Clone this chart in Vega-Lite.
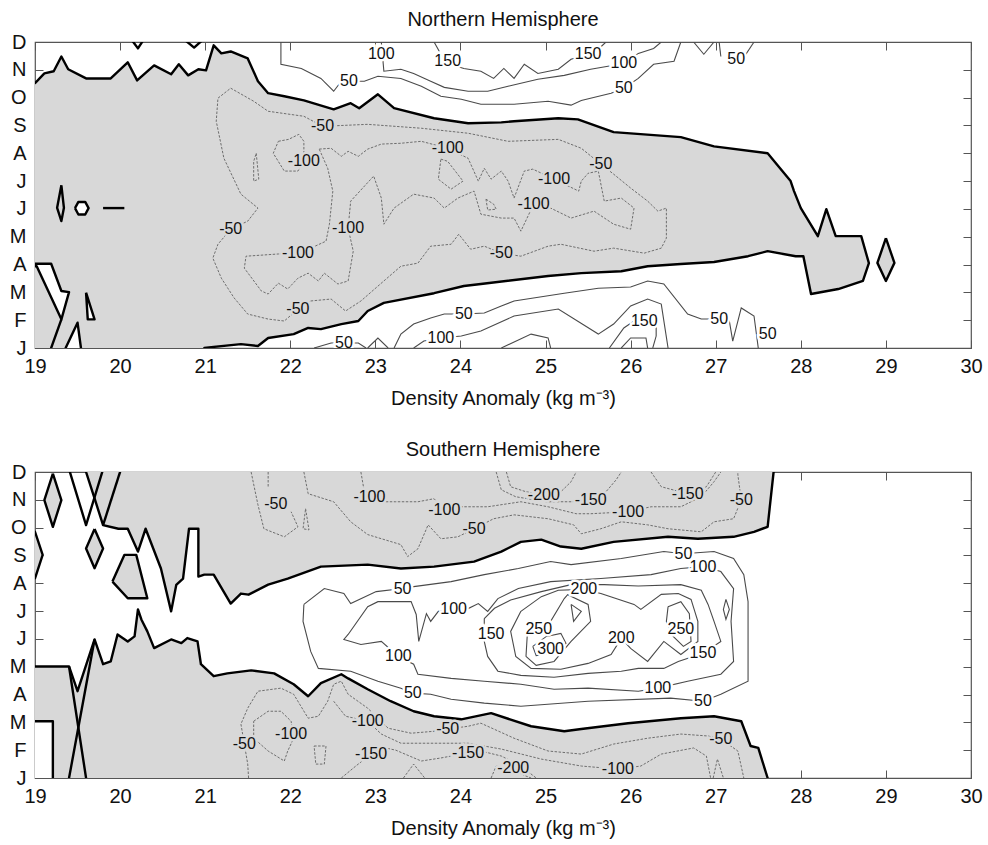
{
"$schema":"https://vega.github.io/schema/vega-lite/v6.json",
"background":"white",
"padding":{"left":8,"top":9,"right":5,"bottom":0},
"spacing":29,
"config":{
 "font":"Liberation Sans",
 "view":{"stroke":"#555","strokeWidth":1.2},
 "axis":{"domain":false,"grid":false,"ticks":true,"tickSize":-8,"tickColor":"#555","tickWidth":1,"labelFont":"Liberation Sans","labelFontSize":20,"labelColor":"#111","titleFont":"Liberation Sans","titleFontSize":20,"titleFontWeight":"normal","titleColor":"#111","labelFlush":false},
 "title":{"font":"Liberation Sans","fontSize":20,"fontWeight":"normal","color":"#111","offset":2,"anchor":"middle"}
},
"datasets":{
"polyN":[
{"g":"n1","s":"g","x":18.9,"y":10.52},{"g":"n1","s":"g","x":19.0,"y":10.52},{"g":"n1","s":"g","x":19.11,"y":10.87},{"g":"n1","s":"g","x":19.22,"y":10.95},{"g":"n1","s":"g","x":19.31,"y":11.48},{"g":"n1","s":"g","x":19.39,"y":11.02},{"g":"n1","s":"g","x":19.6,"y":10.69},{"g":"n1","s":"g","x":19.89,"y":10.69},{"g":"n1","s":"g","x":20.09,"y":11.27},{"g":"n1","s":"g","x":20.2,"y":10.62},{"g":"n1","s":"g","x":20.4,"y":11.16},{"g":"n1","s":"g","x":20.6,"y":10.84},{"g":"n1","s":"g","x":20.69,"y":11.2},{"g":"n1","s":"g","x":20.8,"y":10.8},{"g":"n1","s":"g","x":20.92,"y":11.02},{"g":"n1","s":"g","x":21.01,"y":10.98},{"g":"n1","s":"g","x":21.1,"y":11.88},{"g":"n1","s":"g","x":21.19,"y":11.59},{"g":"n1","s":"g","x":21.3,"y":11.66},{"g":"n1","s":"g","x":21.5,"y":11.41},{"g":"n1","s":"g","x":21.62,"y":10.59},{"g":"n1","s":"g","x":21.74,"y":10.16},{"g":"n1","s":"g","x":21.93,"y":10.05},{"g":"n1","s":"g","x":22.16,"y":9.9},{"g":"n1","s":"g","x":22.51,"y":9.58},{"g":"n1","s":"g","x":22.71,"y":9.8},{"g":"n1","s":"g","x":22.81,"y":9.62},{"g":"n1","s":"g","x":23.03,"y":10.12},{"g":"n1","s":"g","x":23.22,"y":9.62},{"g":"n1","s":"g","x":23.69,"y":9.26},{"g":"n1","s":"g","x":24.09,"y":9.08},{"g":"n1","s":"g","x":24.48,"y":9.11},{"g":"n1","s":"g","x":24.63,"y":9.15},{"g":"n1","s":"g","x":25.15,"y":9.26},{"g":"n1","s":"g","x":25.38,"y":9.22},{"g":"n1","s":"g","x":25.8,"y":8.76},{"g":"n1","s":"g","x":26.59,"y":8.58},{"g":"n1","s":"g","x":26.98,"y":8.25},{"g":"n1","s":"g","x":27.61,"y":8.0},{"g":"n1","s":"g","x":27.88,"y":7.0},{"g":"n1","s":"g","x":27.92,"y":6.64},{"g":"n1","s":"g","x":28.0,"y":6.03},{"g":"n1","s":"g","x":28.2,"y":5.02},{"g":"n1","s":"g","x":28.3,"y":5.99},{"g":"n1","s":"g","x":28.41,"y":5.02},{"g":"n1","s":"g","x":28.71,"y":5.02},{"g":"n1","s":"g","x":28.8,"y":4.05},{"g":"n1","s":"g","x":28.73,"y":3.41},{"g":"n1","s":"g","x":28.44,"y":3.12},{"g":"n1","s":"g","x":28.12,"y":2.94},{"g":"n1","s":"g","x":28.03,"y":4.3},{"g":"n1","s":"g","x":27.94,"y":4.3},{"g":"n1","s":"g","x":27.61,"y":4.48},{"g":"n1","s":"g","x":27.38,"y":4.3},{"g":"n1","s":"g","x":26.98,"y":4.09},{"g":"n1","s":"g","x":26.59,"y":4.02},{"g":"n1","s":"g","x":26.2,"y":3.94},{"g":"n1","s":"g","x":25.89,"y":3.76},{"g":"n1","s":"g","x":25.42,"y":3.69},{"g":"n1","s":"g","x":25.03,"y":3.59},{"g":"n1","s":"g","x":24.24,"y":3.3},{"g":"n1","s":"g","x":24.04,"y":3.23},{"g":"n1","s":"g","x":23.69,"y":2.97},{"g":"n1","s":"g","x":23.1,"y":2.62},{"g":"n1","s":"g","x":22.91,"y":2.33},{"g":"n1","s":"g","x":22.8,"y":1.97},{"g":"n1","s":"g","x":22.6,"y":1.86},{"g":"n1","s":"g","x":22.36,"y":1.68},{"g":"n1","s":"g","x":22.21,"y":1.72},{"g":"n1","s":"g","x":22.04,"y":1.5},{"g":"n1","s":"g","x":21.74,"y":1.36},{"g":"n1","s":"g","x":21.62,"y":1.07},{"g":"n1","s":"g","x":21.42,"y":1.14},{"g":"n1","s":"g","x":21.1,"y":1.04},{"g":"n1","s":"g","x":20.99,"y":1.0},{"g":"n1","s":"g","x":20.95,"y":0.5},{"g":"n1","s":"g","x":18.9,"y":0.5},
{"g":"n2","s":"d","x":29.0,"y":4.95},{"g":"n2","s":"d","x":29.1,"y":4.06},{"g":"n2","s":"d","x":29.0,"y":3.41},{"g":"n2","s":"d","x":28.9,"y":4.06},{"g":"n2","s":"d","x":29.0,"y":4.95},
{"g":"n3","s":"d","x":19.31,"y":6.85},{"g":"n3","s":"d","x":19.34,"y":6.04},{"g":"n3","s":"d","x":19.31,"y":5.56},{"g":"n3","s":"d","x":19.26,"y":6.04},{"g":"n3","s":"d","x":19.31,"y":6.85},
{"g":"n4","s":"w","x":19.47,"y":6.03},{"g":"n4","s":"w","x":19.51,"y":6.25},{"g":"n4","s":"w","x":19.59,"y":6.25},{"g":"n4","s":"w","x":19.63,"y":6.03},{"g":"n4","s":"w","x":19.59,"y":5.8},{"g":"n4","s":"w","x":19.51,"y":5.8},{"g":"n4","s":"w","x":19.47,"y":6.03},
{"g":"n5","s":"w","x":18.9,"y":4.03},{"g":"n5","s":"w","x":19.19,"y":4.03},{"g":"n5","s":"w","x":19.31,"y":3.05},{"g":"n5","s":"w","x":19.4,"y":3.01},{"g":"n5","s":"w","x":19.31,"y":2.03},{"g":"n5","s":"w","x":19.02,"y":3.94},{"g":"n5","s":"w","x":18.9,"y":3.94},
{"g":"n6","s":"w","x":19.35,"y":0.5},{"g":"n6","s":"w","x":19.36,"y":1.0},{"g":"n6","s":"w","x":19.5,"y":1.91},{"g":"n6","s":"w","x":19.54,"y":1.0},{"g":"n6","s":"w","x":19.55,"y":0.5},
{"g":"n7","s":"w","x":19.6,"y":2.99},{"g":"n7","s":"w","x":19.7,"y":2.03},{"g":"n7","s":"w","x":19.62,"y":2.03},{"g":"n7","s":"w","x":19.6,"y":2.99}
],
"polyS":[
{"g":"s1","s":"g","x":19.6,"y":12.54},{"g":"s1","s":"g","x":19.6,"y":12.0},{"g":"s1","s":"g","x":19.7,"y":11.05},{"g":"s1","s":"g","x":19.8,"y":10.09},{"g":"s1","s":"g","x":19.98,"y":9.96},{"g":"s1","s":"g","x":20.09,"y":9.96},{"g":"s1","s":"g","x":20.21,"y":9.14},{"g":"s1","s":"g","x":20.3,"y":9.96},{"g":"s1","s":"g","x":20.48,"y":8.53},{"g":"s1","s":"g","x":20.6,"y":6.99},{"g":"s1","s":"g","x":20.66,"y":7.94},{"g":"s1","s":"g","x":20.74,"y":8.17},{"g":"s1","s":"g","x":20.81,"y":9.96},{"g":"s1","s":"g","x":20.92,"y":9.96},{"g":"s1","s":"g","x":20.92,"y":8.24},{"g":"s1","s":"g","x":20.99,"y":8.31},{"g":"s1","s":"g","x":21.1,"y":8.31},{"g":"s1","s":"g","x":21.3,"y":7.27},{"g":"s1","s":"g","x":21.42,"y":7.63},{"g":"s1","s":"g","x":21.51,"y":7.59},{"g":"s1","s":"g","x":21.74,"y":7.95},{"g":"s1","s":"g","x":21.97,"y":8.17},{"g":"s1","s":"g","x":22.36,"y":8.6},{"g":"s1","s":"g","x":22.91,"y":8.67},{"g":"s1","s":"g","x":23.3,"y":8.53},{"g":"s1","s":"g","x":23.69,"y":8.6},{"g":"s1","s":"g","x":24.16,"y":8.78},{"g":"s1","s":"g","x":24.48,"y":9.14},{"g":"s1","s":"g","x":24.71,"y":9.49},{"g":"s1","s":"g","x":24.95,"y":9.57},{"g":"s1","s":"g","x":25.18,"y":9.32},{"g":"s1","s":"g","x":25.42,"y":9.24},{"g":"s1","s":"g","x":25.8,"y":9.49},{"g":"s1","s":"g","x":26.44,"y":9.67},{"g":"s1","s":"g","x":26.79,"y":9.6},{"g":"s1","s":"g","x":27.21,"y":9.67},{"g":"s1","s":"g","x":27.45,"y":9.85},{"g":"s1","s":"g","x":27.61,"y":10.03},{"g":"s1","s":"g","x":27.68,"y":12.0},{"g":"s1","s":"g","x":27.71,"y":12.54},
{"g":"s2","s":"g","x":18.9,"y":5.01},{"g":"s2","s":"g","x":19.4,"y":5.01},{"g":"s2","s":"g","x":19.5,"y":4.12},{"g":"s2","s":"g","x":19.7,"y":5.98},{"g":"s2","s":"g","x":19.8,"y":5.09},{"g":"s2","s":"g","x":19.89,"y":5.19},{"g":"s2","s":"g","x":19.97,"y":6.16},{"g":"s2","s":"g","x":20.09,"y":5.91},{"g":"s2","s":"g","x":20.17,"y":6.09},{"g":"s2","s":"g","x":20.21,"y":7.06},{"g":"s2","s":"g","x":20.25,"y":6.7},{"g":"s2","s":"g","x":20.32,"y":6.27},{"g":"s2","s":"g","x":20.4,"y":5.67},{"g":"s2","s":"g","x":20.6,"y":5.98},{"g":"s2","s":"g","x":20.72,"y":5.85},{"g":"s2","s":"g","x":20.79,"y":6.03},{"g":"s2","s":"g","x":20.91,"y":5.91},{"g":"s2","s":"g","x":20.95,"y":5.09},{"g":"s2","s":"g","x":21.1,"y":4.66},{"g":"s2","s":"g","x":21.26,"y":4.76},{"g":"s2","s":"g","x":21.54,"y":4.87},{"g":"s2","s":"g","x":21.81,"y":4.76},{"g":"s2","s":"g","x":22.04,"y":4.37},{"g":"s2","s":"g","x":22.21,"y":3.94},{"g":"s2","s":"g","x":22.36,"y":4.41},{"g":"s2","s":"g","x":22.6,"y":4.73},{"g":"s2","s":"g","x":22.68,"y":4.58},{"g":"s2","s":"g","x":22.91,"y":4.19},{"g":"s2","s":"g","x":23.18,"y":3.76},{"g":"s2","s":"g","x":23.45,"y":3.4},{"g":"s2","s":"g","x":23.69,"y":3.22},{"g":"s2","s":"g","x":24.01,"y":3.11},{"g":"s2","s":"g","x":24.36,"y":3.33},{"g":"s2","s":"g","x":24.83,"y":2.86},{"g":"s2","s":"g","x":25.22,"y":2.68},{"g":"s2","s":"g","x":25.42,"y":2.76},{"g":"s2","s":"g","x":25.97,"y":2.97},{"g":"s2","s":"g","x":26.59,"y":3.15},{"g":"s2","s":"g","x":26.98,"y":3.22},{"g":"s2","s":"g","x":27.3,"y":3.04},{"g":"s2","s":"g","x":27.41,"y":2.15},{"g":"s2","s":"g","x":27.5,"y":2.08},{"g":"s2","s":"g","x":27.61,"y":1.0},{"g":"s2","s":"g","x":27.62,"y":0.5},{"g":"s2","s":"g","x":18.9,"y":0.5},
{"g":"s3","s":"w","x":18.9,"y":3.04},{"g":"s3","s":"w","x":19.21,"y":3.04},{"g":"s3","s":"w","x":19.21,"y":0.5},{"g":"s3","s":"w","x":18.9,"y":0.5},
{"g":"s4","s":"d","x":19.21,"y":11.94},{"g":"s4","s":"d","x":19.31,"y":10.99},{"g":"s4","s":"d","x":19.21,"y":10.03},{"g":"s4","s":"d","x":19.11,"y":10.99},{"g":"s4","s":"d","x":19.21,"y":11.94},
{"g":"s5","s":"d","x":19.7,"y":9.95},{"g":"s5","s":"d","x":19.8,"y":9.25},{"g":"s5","s":"d","x":19.7,"y":8.54},{"g":"s5","s":"d","x":19.6,"y":9.25},{"g":"s5","s":"d","x":19.7,"y":9.95},
{"g":"s6","s":"d","x":19.91,"y":8.06},{"g":"s6","s":"d","x":20.05,"y":9.02},{"g":"s6","s":"d","x":20.19,"y":9.02},{"g":"s6","s":"d","x":20.32,"y":7.46},{"g":"s6","s":"d","x":20.09,"y":7.46},{"g":"s6","s":"d","x":19.91,"y":8.06},
{"g":"s7","s":"d","x":18.9,"y":9.85},{"g":"s7","s":"d","x":19.0,"y":9.85},{"g":"s7","s":"d","x":19.09,"y":9.02},{"g":"s7","s":"d","x":19.0,"y":8.18},{"g":"s7","s":"d","x":18.9,"y":8.18}
],
"thkN":[
{"g":"t1","x":20.13,"y":12.1},{"g":"t1","x":20.21,"y":11.77},{"g":"t1","x":20.28,"y":12.1},
{"g":"t2","x":20.75,"y":12.1},{"g":"t2","x":20.87,"y":11.8},{"g":"t2","x":20.98,"y":12.1},
{"g":"t3","x":19.8,"y":6.03},{"g":"t3","x":20.05,"y":6.03},
{"g":"t4","x":19.31,"y":2.03},{"g":"t4","x":19.19,"y":1.0},{"g":"t4","x":19.17,"y":0.5}
],
"thkS":[
{"g":"t5","x":19.4,"y":12.1},{"g":"t5","x":19.6,"y":10.09},{"g":"t5","x":19.8,"y":12.1},
{"g":"t6","x":20.01,"y":12.1},{"g":"t6","x":19.8,"y":10.09},
{"g":"t7","x":19.4,"y":5.01},{"g":"t7","x":19.6,"y":1.0},{"g":"t7","x":19.61,"y":0.5},
{"g":"t8","x":19.7,"y":5.98},{"g":"t8","x":19.4,"y":1.0},{"g":"t8","x":19.39,"y":0.5}
],
"contN":[
{"g":"a","v":-50,"x":22.24,"y":2.69},{"g":"a","v":-50,"x":22.48,"y":2.76},{"g":"a","v":-50,"x":22.65,"y":2.33},{"g":"a","v":-50,"x":22.83,"y":2.69},{"g":"a","v":-50,"x":23.1,"y":3.41},{"g":"a","v":-50,"x":23.3,"y":3.94},{"g":"a","v":-50,"x":23.5,"y":4.05},{"g":"a","v":-50,"x":23.65,"y":4.66},{"g":"a","v":-50,"x":23.89,"y":4.73},{"g":"a","v":-50,"x":23.98,"y":5.09},{"g":"a","v":-50,"x":24.12,"y":4.55},{"g":"a","v":-50,"x":24.28,"y":4.66},{"g":"a","v":-50,"x":24.48,"y":4.41},{"g":"a","v":-50,"x":24.71,"y":4.3},{"g":"a","v":-50,"x":25.03,"y":4.66},{"g":"a","v":-50,"x":25.18,"y":4.73},{"g":"a","v":-50,"x":25.57,"y":4.48},{"g":"a","v":-50,"x":25.8,"y":4.59},{"g":"a","v":-50,"x":26.16,"y":4.41},{"g":"a","v":-50,"x":26.36,"y":4.59},{"g":"a","v":-50,"x":26.42,"y":4.95},{"g":"a","v":-50,"x":26.42,"y":6.03},{"g":"a","v":-50,"x":26.32,"y":5.92},{"g":"a","v":-50,"x":26.2,"y":6.28},{"g":"a","v":-50,"x":26.0,"y":6.75},{"g":"a","v":-50,"x":25.8,"y":7.25},{"g":"a","v":-50,"x":25.65,"y":7.61},{"g":"a","v":-50,"x":25.42,"y":8.18},{"g":"a","v":-50,"x":25.15,"y":8.5},{"g":"a","v":-50,"x":24.56,"y":8.43},{"g":"a","v":-50,"x":24.09,"y":8.72},{"g":"a","v":-50,"x":23.54,"y":8.9},{"g":"a","v":-50,"x":22.91,"y":9.04},{"g":"a","v":-50,"x":22.38,"y":8.97},{"g":"a","v":-50,"x":22.16,"y":9.33},{"g":"a","v":-50,"x":21.74,"y":9.51},{"g":"a","v":-50,"x":21.57,"y":9.87},{"g":"a","v":-50,"x":21.3,"y":10.34},{"g":"a","v":-50,"x":21.15,"y":9.98},{"g":"a","v":-50,"x":21.13,"y":9.15},{"g":"a","v":-50,"x":21.22,"y":7.82},{"g":"a","v":-50,"x":21.42,"y":6.53},{"g":"a","v":-50,"x":21.62,"y":6.03},{"g":"a","v":-50,"x":21.5,"y":5.56},{"g":"a","v":-50,"x":21.3,"y":5.27},{"g":"a","v":-50,"x":21.15,"y":4.73},{"g":"a","v":-50,"x":21.09,"y":4.23},{"g":"a","v":-50,"x":21.19,"y":3.51},{"g":"a","v":-50,"x":21.34,"y":2.8},{"g":"a","v":-50,"x":21.5,"y":2.22},{"g":"a","v":-50,"x":21.74,"y":2.04},{"g":"a","v":-50,"x":21.93,"y":1.97},{"g":"a","v":-50,"x":22.09,"y":2.4},{"g":"a","v":-50,"x":22.24,"y":2.69},
{"g":"b","v":-50,"x":21.6,"y":8.0},{"g":"b","v":-50,"x":21.63,"y":7.07},{"g":"b","v":-50,"x":21.57,"y":7.0},{"g":"b","v":-50,"x":21.57,"y":7.71},{"g":"b","v":-50,"x":21.6,"y":8.0},
{"g":"c","v":-100,"x":22.34,"y":8.15},{"g":"c","v":-100,"x":22.48,"y":8.18},{"g":"c","v":-100,"x":22.6,"y":7.89},{"g":"c","v":-100,"x":22.68,"y":8.07},{"g":"c","v":-100,"x":22.8,"y":7.89},{"g":"c","v":-100,"x":22.91,"y":8.15},{"g":"c","v":-100,"x":23.07,"y":8.33},{"g":"c","v":-100,"x":23.3,"y":8.36},{"g":"c","v":-100,"x":23.54,"y":8.43},{"g":"c","v":-100,"x":23.85,"y":8.18},{"g":"c","v":-100,"x":24.09,"y":7.82},{"g":"c","v":-100,"x":24.21,"y":7.0},{"g":"c","v":-100,"x":24.28,"y":7.46},{"g":"c","v":-100,"x":24.36,"y":7.07},{"g":"c","v":-100,"x":24.48,"y":7.36},{"g":"c","v":-100,"x":24.56,"y":7.0},{"g":"c","v":-100,"x":24.63,"y":6.39},{"g":"c","v":-100,"x":24.75,"y":7.36},{"g":"c","v":-100,"x":24.85,"y":7.43},{"g":"c","v":-100,"x":25.1,"y":7.07},{"g":"c","v":-100,"x":25.39,"y":6.64},{"g":"c","v":-100,"x":25.42,"y":7.0},{"g":"c","v":-100,"x":25.5,"y":7.28},{"g":"c","v":-100,"x":25.62,"y":7.36},{"g":"c","v":-100,"x":25.69,"y":6.28},{"g":"c","v":-100,"x":25.89,"y":6.39},{"g":"c","v":-100,"x":26.04,"y":6.03},{"g":"c","v":-100,"x":26.0,"y":5.27},{"g":"c","v":-100,"x":25.8,"y":5.45},{"g":"c","v":-100,"x":25.57,"y":5.92},{"g":"c","v":-100,"x":25.3,"y":5.67},{"g":"c","v":-100,"x":25.06,"y":6.03},{"g":"c","v":-100,"x":24.86,"y":6.17},{"g":"c","v":-100,"x":24.71,"y":5.2},{"g":"c","v":-100,"x":24.63,"y":5.67},{"g":"c","v":-100,"x":24.48,"y":5.67},{"g":"c","v":-100,"x":24.24,"y":5.81},{"g":"c","v":-100,"x":24.16,"y":6.64},{"g":"c","v":-100,"x":23.97,"y":6.39},{"g":"c","v":-100,"x":23.81,"y":6.03},{"g":"c","v":-100,"x":23.69,"y":6.39},{"g":"c","v":-100,"x":23.45,"y":6.53},{"g":"c","v":-100,"x":23.22,"y":6.03},{"g":"c","v":-100,"x":23.1,"y":5.45},{"g":"c","v":-100,"x":23.07,"y":6.39},{"g":"c","v":-100,"x":22.98,"y":7.18},{"g":"c","v":-100,"x":22.71,"y":6.28},{"g":"c","v":-100,"x":22.68,"y":5.31},{"g":"c","v":-100,"x":22.74,"y":4.48},{"g":"c","v":-100,"x":22.68,"y":3.41},{"g":"c","v":-100,"x":22.56,"y":3.3},{"g":"c","v":-100,"x":22.4,"y":3.69},{"g":"c","v":-100,"x":22.33,"y":3.41},{"g":"c","v":-100,"x":22.21,"y":3.69},{"g":"c","v":-100,"x":22.09,"y":3.51},{"g":"c","v":-100,"x":21.97,"y":3.12},{"g":"c","v":-100,"x":21.86,"y":3.33},{"g":"c","v":-100,"x":21.74,"y":2.94},{"g":"c","v":-100,"x":21.66,"y":3.05},{"g":"c","v":-100,"x":21.46,"y":3.87},{"g":"c","v":-100,"x":21.48,"y":4.3},{"g":"c","v":-100,"x":21.86,"y":4.38},{"g":"c","v":-100,"x":22.09,"y":4.41},{"g":"c","v":-100,"x":22.24,"y":4.59},{"g":"c","v":-100,"x":22.42,"y":4.84},{"g":"c","v":-100,"x":22.46,"y":5.45},{"g":"c","v":-100,"x":22.5,"y":6.64},{"g":"c","v":-100,"x":22.44,"y":7.46},{"g":"c","v":-100,"x":22.34,"y":8.15},
{"g":"d","v":-100,"x":21.86,"y":8.43},{"g":"d","v":-100,"x":21.98,"y":8.5},{"g":"d","v":-100,"x":22.1,"y":8.68},{"g":"d","v":-100,"x":22.16,"y":8.43},{"g":"d","v":-100,"x":22.16,"y":7.71},{"g":"d","v":-100,"x":22.09,"y":7.36},{"g":"d","v":-100,"x":21.93,"y":7.36},{"g":"d","v":-100,"x":21.8,"y":8.0},{"g":"d","v":-100,"x":21.86,"y":8.43},
{"g":"e","v":-100,"x":23.77,"y":7.79},{"g":"e","v":-100,"x":23.85,"y":7.71},{"g":"e","v":-100,"x":24.03,"y":7.0},{"g":"e","v":-100,"x":23.89,"y":6.71},{"g":"e","v":-100,"x":23.74,"y":7.07},{"g":"e","v":-100,"x":23.77,"y":7.79},
{"g":"f","v":-100,"x":24.3,"y":6.35},{"g":"f","v":-100,"x":24.39,"y":6.17},{"g":"f","v":-100,"x":24.42,"y":5.99},{"g":"f","v":-100,"x":24.32,"y":5.96},{"g":"f","v":-100,"x":24.3,"y":6.35},
{"g":"g","v":50,"x":21.89,"y":12.0},{"g":"g","v":50,"x":21.89,"y":11.2},{"g":"g","v":50,"x":22.13,"y":11.05},{"g":"g","v":50,"x":22.36,"y":10.69},{"g":"g","v":50,"x":22.51,"y":10.23},{"g":"g","v":50,"x":22.6,"y":10.59},{"g":"g","v":50,"x":22.87,"y":10.59},{"g":"g","v":50,"x":23.03,"y":10.77},{"g":"g","v":50,"x":23.3,"y":10.69},{"g":"g","v":50,"x":23.54,"y":10.41},{"g":"g","v":50,"x":23.77,"y":10.05},{"g":"g","v":50,"x":24.01,"y":9.94},{"g":"g","v":50,"x":24.24,"y":9.76},{"g":"g","v":50,"x":24.63,"y":9.76},{"g":"g","v":50,"x":25.03,"y":9.87},{"g":"g","v":50,"x":25.3,"y":9.73},{"g":"g","v":50,"x":25.42,"y":9.9},{"g":"g","v":50,"x":25.77,"y":10.16},{"g":"g","v":50,"x":25.92,"y":10.34},{"g":"g","v":50,"x":26.09,"y":10.69},{"g":"g","v":50,"x":26.27,"y":11.2},{"g":"g","v":50,"x":26.51,"y":11.31},{"g":"g","v":50,"x":26.59,"y":12.0},
{"g":"h","v":100,"x":23.07,"y":12.0},{"g":"h","v":100,"x":23.1,"y":10.95},{"g":"h","v":100,"x":23.3,"y":11.02},{"g":"h","v":100,"x":23.45,"y":10.87},{"g":"h","v":100,"x":23.65,"y":10.59},{"g":"h","v":100,"x":23.81,"y":10.37},{"g":"h","v":100,"x":24.09,"y":10.23},{"g":"h","v":100,"x":24.32,"y":10.23},{"g":"h","v":100,"x":24.56,"y":10.41},{"g":"h","v":100,"x":24.91,"y":10.66},{"g":"h","v":100,"x":25.22,"y":10.8},{"g":"h","v":100,"x":25.53,"y":11.02},{"g":"h","v":100,"x":25.92,"y":11.23},{"g":"h","v":100,"x":26.09,"y":11.59},{"g":"h","v":100,"x":26.27,"y":11.77},{"g":"h","v":100,"x":26.36,"y":12.0},
{"g":"i","v":150,"x":23.69,"y":12.0},{"g":"i","v":150,"x":23.77,"y":11.56},{"g":"i","v":150,"x":23.85,"y":11.23},{"g":"i","v":150,"x":24.04,"y":11.05},{"g":"i","v":150,"x":24.24,"y":10.95},{"g":"i","v":150,"x":24.39,"y":10.69},{"g":"i","v":150,"x":24.51,"y":11.05},{"g":"i","v":150,"x":24.63,"y":10.69},{"g":"i","v":150,"x":24.75,"y":11.2},{"g":"i","v":150,"x":24.91,"y":10.87},{"g":"i","v":150,"x":25.15,"y":11.02},{"g":"i","v":150,"x":25.3,"y":11.38},{"g":"i","v":150,"x":25.5,"y":11.56},{"g":"i","v":150,"x":25.62,"y":11.74},{"g":"i","v":150,"x":25.71,"y":12.0},
{"g":"j","v":50,"x":26.74,"y":12.0},{"g":"j","v":50,"x":26.86,"y":11.56},{"g":"j","v":50,"x":26.98,"y":12.0},
{"g":"k","v":50,"x":27.04,"y":12.0},{"g":"k","v":50,"x":27.06,"y":11.48},
{"g":"l","v":50,"x":27.3,"y":11.31},{"g":"l","v":50,"x":27.45,"y":12.0},
{"g":"m","v":50,"x":23.22,"y":1.0},{"g":"m","v":50,"x":23.3,"y":1.5},{"g":"m","v":50,"x":23.45,"y":1.86},{"g":"m","v":50,"x":23.65,"y":2.08},{"g":"m","v":50,"x":23.81,"y":2.22},{"g":"m","v":50,"x":24.04,"y":2.22},{"g":"m","v":50,"x":24.28,"y":2.26},{"g":"m","v":50,"x":24.48,"y":2.51},{"g":"m","v":50,"x":24.63,"y":2.69},{"g":"m","v":50,"x":25.22,"y":2.97},{"g":"m","v":50,"x":25.62,"y":3.15},{"g":"m","v":50,"x":26.0,"y":3.19},{"g":"m","v":50,"x":26.2,"y":3.41},{"g":"m","v":50,"x":26.39,"y":3.3},{"g":"m","v":50,"x":26.67,"y":2.22},{"g":"m","v":50,"x":26.83,"y":2.04},{"g":"m","v":50,"x":27.04,"y":2.04},{"g":"m","v":50,"x":27.16,"y":1.97},{"g":"m","v":50,"x":27.2,"y":1.25},{"g":"m","v":50,"x":27.3,"y":2.44},{"g":"m","v":50,"x":27.45,"y":2.15},{"g":"m","v":50,"x":27.5,"y":1.0},
{"g":"n","v":50,"x":22.28,"y":1.0},{"g":"n","v":50,"x":22.48,"y":1.18},{"g":"n","v":50,"x":22.8,"y":1.18},{"g":"n","v":50,"x":22.89,"y":1.0},
{"g":"o","v":50,"x":22.91,"y":1.0},{"g":"o","v":50,"x":23.03,"y":1.36},{"g":"o","v":50,"x":23.15,"y":1.0},
{"g":"p","v":100,"x":23.45,"y":1.0},{"g":"p","v":100,"x":23.57,"y":1.25},{"g":"p","v":100,"x":23.77,"y":1.36},{"g":"p","v":100,"x":24.01,"y":1.43},{"g":"p","v":100,"x":24.24,"y":1.61},{"g":"p","v":100,"x":24.63,"y":2.15},{"g":"p","v":100,"x":25.15,"y":2.4},{"g":"p","v":100,"x":25.62,"y":1.5},{"g":"p","v":100,"x":25.8,"y":1.86},{"g":"p","v":100,"x":26.0,"y":2.51},{"g":"p","v":100,"x":26.2,"y":2.76},{"g":"p","v":100,"x":26.36,"y":2.58},{"g":"p","v":100,"x":26.44,"y":1.0},
{"g":"q","v":150,"x":25.75,"y":1.0},{"g":"q","v":150,"x":25.92,"y":1.72},{"g":"q","v":150,"x":26.09,"y":2.08},{"g":"q","v":150,"x":26.3,"y":1.97},{"g":"q","v":150,"x":26.3,"y":1.43},{"g":"q","v":150,"x":26.26,"y":1.0},
{"g":"r","v":200,"x":25.89,"y":1.0},{"g":"r","v":200,"x":26.0,"y":1.36},{"g":"r","v":200,"x":26.18,"y":1.36},{"g":"r","v":200,"x":26.2,"y":1.0},
{"g":"s","v":150,"x":24.48,"y":1.0},{"g":"s","v":150,"x":24.83,"y":1.5},{"g":"s","v":150,"x":25.03,"y":1.36},{"g":"s","v":150,"x":25.06,"y":1.0}
],
"contS":[
{"g":"a","v":-50,"x":21.54,"y":12.0},{"g":"a","v":-50,"x":21.62,"y":10.82},{"g":"a","v":-50,"x":21.69,"y":9.96},{"g":"a","v":-50,"x":21.93,"y":9.67},{"g":"a","v":-50,"x":22.09,"y":10.03},{"g":"a","v":-50,"x":22.01,"y":10.57},
{"g":"b","v":-50,"x":21.74,"y":12.0},{"g":"b","v":-50,"x":21.74,"y":11.47},
{"g":"c","v":-50,"x":22.18,"y":10.68},{"g":"c","v":-50,"x":22.22,"y":9.92},{"g":"c","v":-50,"x":22.15,"y":9.96},{"g":"c","v":-50,"x":22.18,"y":10.68},
{"g":"d","v":-50,"x":22.16,"y":12.0},{"g":"d","v":-50,"x":22.21,"y":11.22},{"g":"d","v":-50,"x":22.51,"y":10.93},{"g":"d","v":-50,"x":22.71,"y":10.21},{"g":"d","v":-50,"x":22.91,"y":9.75},{"g":"d","v":-50,"x":23.3,"y":9.39},{"g":"d","v":-50,"x":23.38,"y":8.96},{"g":"d","v":-50,"x":23.5,"y":9.24},{"g":"d","v":-50,"x":23.62,"y":10.1},{"g":"d","v":-50,"x":23.77,"y":9.6},{"g":"d","v":-50,"x":23.97,"y":9.67},{"g":"d","v":-50,"x":24.16,"y":9.96},{"g":"d","v":-50,"x":24.39,"y":10.32},{"g":"d","v":-50,"x":24.63,"y":10.46},{"g":"d","v":-50,"x":25.03,"y":10.32},{"g":"d","v":-50,"x":25.33,"y":10.1},{"g":"d","v":-50,"x":25.42,"y":9.78},{"g":"d","v":-50,"x":25.65,"y":9.96},{"g":"d","v":-50,"x":25.89,"y":10.21},{"g":"d","v":-50,"x":26.2,"y":10.1},{"g":"d","v":-50,"x":26.44,"y":9.96},{"g":"d","v":-50,"x":26.83,"y":9.85},{"g":"d","v":-50,"x":26.98,"y":10.21},{"g":"d","v":-50,"x":27.21,"y":10.32},{"g":"d","v":-50,"x":27.3,"y":11.0},{"g":"d","v":-50,"x":27.26,"y":11.9},{"g":"d","v":-50,"x":27.26,"y":12.0},
{"g":"e","v":-100,"x":22.83,"y":12.0},{"g":"e","v":-100,"x":22.86,"y":11.47},{"g":"e","v":-100,"x":22.93,"y":11.11},{"g":"e","v":-100,"x":23.07,"y":10.93},{"g":"e","v":-100,"x":23.24,"y":10.93},{"g":"e","v":-100,"x":23.5,"y":10.93},{"g":"e","v":-100,"x":23.69,"y":11.04},{"g":"e","v":-100,"x":23.81,"y":10.64},{"g":"e","v":-100,"x":24.01,"y":10.75},{"g":"e","v":-100,"x":24.32,"y":10.75},{"g":"e","v":-100,"x":24.71,"y":10.93},{"g":"e","v":-100,"x":25.03,"y":10.75},{"g":"e","v":-100,"x":25.36,"y":10.5},{"g":"e","v":-100,"x":25.53,"y":10.5},{"g":"e","v":-100,"x":25.97,"y":10.57},{"g":"e","v":-100,"x":26.24,"y":10.75},{"g":"e","v":-100,"x":26.59,"y":10.75},{"g":"e","v":-100,"x":26.83,"y":11.11},{"g":"e","v":-100,"x":26.98,"y":11.65},{"g":"e","v":-100,"x":27.06,"y":12.0},
{"g":"f","v":-150,"x":24.42,"y":12.0},{"g":"f","v":-150,"x":24.48,"y":11.36},{"g":"f","v":-150,"x":24.65,"y":11.11},{"g":"f","v":-150,"x":25.01,"y":10.93},{"g":"f","v":-150,"x":25.36,"y":10.93},{"g":"f","v":-150,"x":25.53,"y":11.0},{"g":"f","v":-150,"x":25.71,"y":11.29},{"g":"f","v":-150,"x":25.83,"y":11.72},{"g":"f","v":-150,"x":25.89,"y":12.0},
{"g":"g","v":-150,"x":26.24,"y":12.0},{"g":"g","v":-150,"x":26.36,"y":11.47},{"g":"g","v":-150,"x":26.67,"y":11.22},{"g":"g","v":-150,"x":26.89,"y":11.47},{"g":"g","v":-150,"x":27.0,"y":12.0},
{"g":"h","v":-200,"x":24.54,"y":12.0},{"g":"h","v":-200,"x":24.59,"y":11.47},{"g":"h","v":-200,"x":24.77,"y":11.29},{"g":"h","v":-200,"x":24.98,"y":11.18},{"g":"h","v":-200,"x":25.18,"y":11.29},{"g":"h","v":-200,"x":25.3,"y":11.65},{"g":"h","v":-200,"x":25.36,"y":12.0},
{"g":"i","v":50,"x":22.16,"y":7.24},{"g":"i","v":50,"x":22.4,"y":7.81},{"g":"i","v":50,"x":22.63,"y":7.63},{"g":"i","v":50,"x":22.71,"y":7.27},{"g":"i","v":50,"x":23.01,"y":7.7},{"g":"i","v":50,"x":23.32,"y":7.81},{"g":"i","v":50,"x":23.45,"y":7.88},{"g":"i","v":50,"x":23.89,"y":8.06},{"g":"i","v":50,"x":24.28,"y":8.31},{"g":"i","v":50,"x":24.68,"y":8.53},{"g":"i","v":50,"x":25.06,"y":8.78},{"g":"i","v":50,"x":25.3,"y":8.67},{"g":"i","v":50,"x":25.89,"y":8.89},{"g":"i","v":50,"x":26.39,"y":9.14},{"g":"i","v":50,"x":26.62,"y":9.06},{"g":"i","v":50,"x":26.98,"y":9.14},{"g":"i","v":50,"x":27.21,"y":8.89},{"g":"i","v":50,"x":27.33,"y":8.31},{"g":"i","v":50,"x":27.38,"y":7.34},{"g":"i","v":50,"x":27.38,"y":5.91},{"g":"i","v":50,"x":27.38,"y":4.48},{"g":"i","v":50,"x":27.06,"y":4.01},{"g":"i","v":50,"x":26.85,"y":3.76},{"g":"i","v":50,"x":26.47,"y":3.87},{"g":"i","v":50,"x":25.5,"y":3.76},{"g":"i","v":50,"x":24.71,"y":3.58},{"g":"i","v":50,"x":24.28,"y":3.69},{"g":"i","v":50,"x":23.89,"y":3.83},{"g":"i","v":50,"x":23.65,"y":4.01},{"g":"i","v":50,"x":23.44,"y":4.05},{"g":"i","v":50,"x":23.3,"y":4.23},{"g":"i","v":50,"x":23.03,"y":4.48},{"g":"i","v":50,"x":22.71,"y":4.84},{"g":"i","v":50,"x":22.33,"y":4.94},{"g":"i","v":50,"x":22.24,"y":5.55},{"g":"i","v":50,"x":22.15,"y":6.63},{"g":"i","v":50,"x":22.16,"y":7.24},
{"g":"j","v":100,"x":22.68,"y":6.16},{"g":"j","v":100,"x":22.91,"y":7.16},{"g":"j","v":100,"x":23.03,"y":7.34},{"g":"j","v":100,"x":23.42,"y":7.34},{"g":"j","v":100,"x":23.48,"y":6.88},{"g":"j","v":100,"x":23.51,"y":5.91},{"g":"j","v":100,"x":23.6,"y":6.91},{"g":"j","v":100,"x":23.65,"y":6.63},{"g":"j","v":100,"x":23.74,"y":6.99},{"g":"j","v":100,"x":23.92,"y":7.06},{"g":"j","v":100,"x":24.09,"y":7.09},{"g":"j","v":100,"x":24.21,"y":7.27},{"g":"j","v":100,"x":24.32,"y":6.99},{"g":"j","v":100,"x":24.44,"y":7.45},{"g":"j","v":100,"x":24.68,"y":7.81},{"g":"j","v":100,"x":25.06,"y":8.06},{"g":"j","v":100,"x":25.65,"y":8.17},{"g":"j","v":100,"x":26.24,"y":8.31},{"g":"j","v":100,"x":26.59,"y":8.53},{"g":"j","v":100,"x":26.85,"y":8.6},{"g":"j","v":100,"x":27.06,"y":8.42},{"g":"j","v":100,"x":27.21,"y":7.81},{"g":"j","v":100,"x":27.18,"y":6.63},{"g":"j","v":100,"x":27.21,"y":5.19},{"g":"j","v":100,"x":27.06,"y":4.73},{"g":"j","v":100,"x":26.67,"y":4.48},{"g":"j","v":100,"x":26.32,"y":4.23},{"g":"j","v":100,"x":26.09,"y":4.12},{"g":"j","v":100,"x":25.5,"y":4.23},{"g":"j","v":100,"x":25.1,"y":4.19},{"g":"j","v":100,"x":24.71,"y":4.37},{"g":"j","v":100,"x":24.28,"y":4.48},{"g":"j","v":100,"x":23.89,"y":4.58},{"g":"j","v":100,"x":23.5,"y":4.73},{"g":"j","v":100,"x":23.45,"y":5.09},{"g":"j","v":100,"x":23.27,"y":5.37},{"g":"j","v":100,"x":23.07,"y":5.91},{"g":"j","v":100,"x":22.83,"y":5.8},{"g":"j","v":100,"x":22.63,"y":5.98},{"g":"j","v":100,"x":22.68,"y":6.16},
{"g":"k","v":150,"x":24.28,"y":6.73},{"g":"k","v":150,"x":24.4,"y":7.1},{"g":"k","v":150,"x":24.59,"y":7.4},{"g":"k","v":150,"x":24.95,"y":7.7},{"g":"k","v":150,"x":25.3,"y":7.95},{"g":"k","v":150,"x":25.69,"y":7.95},{"g":"k","v":150,"x":26.09,"y":7.9},{"g":"k","v":150,"x":26.59,"y":7.95},{"g":"k","v":150,"x":26.83,"y":7.75},{"g":"k","v":150,"x":26.91,"y":7.24},{"g":"k","v":150,"x":26.98,"y":6.63},{"g":"k","v":150,"x":27.06,"y":5.91},{"g":"k","v":150,"x":26.85,"y":5.48},{"g":"k","v":150,"x":26.56,"y":5.19},{"g":"k","v":150,"x":26.39,"y":4.94},{"g":"k","v":150,"x":26.09,"y":4.94},{"g":"k","v":150,"x":25.89,"y":4.84},{"g":"k","v":150,"x":25.5,"y":4.76},{"g":"k","v":150,"x":25.1,"y":4.62},{"g":"k","v":150,"x":24.71,"y":4.69},{"g":"k","v":150,"x":24.44,"y":4.84},{"g":"k","v":150,"x":24.32,"y":5.37},{"g":"k","v":150,"x":24.28,"y":5.91},{"g":"k","v":150,"x":24.28,"y":6.73},
{"g":"l","v":200,"x":24.71,"y":6.99},{"g":"l","v":200,"x":24.95,"y":7.52},{"g":"l","v":200,"x":25.15,"y":7.75},{"g":"l","v":200,"x":25.45,"y":7.78},{"g":"l","v":200,"x":25.65,"y":7.63},{"g":"l","v":200,"x":26.04,"y":7.24},{"g":"l","v":200,"x":26.12,"y":7.06},{"g":"l","v":200,"x":26.36,"y":7.6},{"g":"l","v":200,"x":26.56,"y":7.63},{"g":"l","v":200,"x":26.71,"y":7.42},{"g":"l","v":200,"x":26.79,"y":6.63},{"g":"l","v":200,"x":26.79,"y":5.91},{"g":"l","v":200,"x":26.59,"y":5.44},{"g":"l","v":200,"x":26.39,"y":5.91},{"g":"l","v":200,"x":26.2,"y":5.19},{"g":"l","v":200,"x":26.0,"y":5.66},{"g":"l","v":200,"x":25.89,"y":6.02},{"g":"l","v":200,"x":25.77,"y":5.44},{"g":"l","v":200,"x":25.5,"y":5.12},{"g":"l","v":200,"x":25.18,"y":4.91},{"g":"l","v":200,"x":24.83,"y":4.94},{"g":"l","v":200,"x":24.65,"y":5.37},{"g":"l","v":200,"x":24.59,"y":6.27},{"g":"l","v":200,"x":24.71,"y":6.99},
{"g":"m","v":250,"x":24.77,"y":5.37},{"g":"m","v":250,"x":24.79,"y":6.38},{"g":"m","v":250,"x":24.92,"y":6.34},{"g":"m","v":250,"x":25.06,"y":6.63},{"g":"m","v":250,"x":25.22,"y":7.45},{"g":"m","v":250,"x":25.26,"y":7.59},{"g":"m","v":250,"x":25.5,"y":7.24},{"g":"m","v":250,"x":25.53,"y":6.63},{"g":"m","v":250,"x":25.3,"y":5.91},{"g":"m","v":250,"x":25.1,"y":5.19},{"g":"m","v":250,"x":24.89,"y":5.05},{"g":"m","v":250,"x":24.77,"y":5.37},
{"g":"n","v":250,"x":26.44,"y":7.16},{"g":"n","v":250,"x":26.59,"y":7.34},{"g":"n","v":250,"x":26.69,"y":6.91},{"g":"n","v":250,"x":26.71,"y":5.91},{"g":"n","v":250,"x":26.62,"y":5.73},{"g":"n","v":250,"x":26.5,"y":6.09},{"g":"n","v":250,"x":26.42,"y":6.63},{"g":"n","v":250,"x":26.44,"y":7.16},
{"g":"o","v":300,"x":24.85,"y":5.73},{"g":"o","v":300,"x":25.01,"y":6.09},{"g":"o","v":300,"x":25.18,"y":6.2},{"g":"o","v":300,"x":25.24,"y":5.84},{"g":"o","v":300,"x":25.06,"y":5.48},{"g":"o","v":300,"x":24.89,"y":5.4},{"g":"o","v":300,"x":24.85,"y":5.73},
{"g":"p","v":300,"x":25.3,"y":7.24},{"g":"p","v":300,"x":25.42,"y":6.99},{"g":"p","v":300,"x":25.33,"y":6.63},{"g":"p","v":300,"x":25.3,"y":7.24},
{"g":"q","v":100,"x":27.12,"y":7.42},{"g":"q","v":100,"x":27.16,"y":7.06},{"g":"q","v":100,"x":27.12,"y":6.7},{"g":"q","v":100,"x":27.09,"y":7.06},{"g":"q","v":100,"x":27.12,"y":7.42},
{"g":"r","v":-50,"x":21.51,"y":1.0},{"g":"r","v":-50,"x":21.5,"y":1.5},{"g":"r","v":-50,"x":21.46,"y":2.22},{"g":"r","v":-50,"x":21.42,"y":2.94},{"g":"r","v":-50,"x":21.5,"y":3.51},{"g":"r","v":-50,"x":21.62,"y":4.12},{"g":"r","v":-50,"x":21.89,"y":4.23},{"g":"r","v":-50,"x":22.04,"y":4.01},{"g":"r","v":-50,"x":22.21,"y":3.15},{"g":"r","v":-50,"x":22.33,"y":3.22},{"g":"r","v":-50,"x":22.44,"y":3.76},{"g":"r","v":-50,"x":22.51,"y":4.37},{"g":"r","v":-50,"x":22.6,"y":4.48},{"g":"r","v":-50,"x":22.68,"y":4.01},{"g":"r","v":-50,"x":22.91,"y":3.51},{"g":"r","v":-50,"x":23.15,"y":2.79},{"g":"r","v":-50,"x":23.42,"y":2.61},{"g":"r","v":-50,"x":23.69,"y":2.68},{"g":"r","v":-50,"x":23.85,"y":2.76},{"g":"r","v":-50,"x":24.09,"y":2.86},{"g":"r","v":-50,"x":24.24,"y":2.97},{"g":"r","v":-50,"x":24.63,"y":2.43},{"g":"r","v":-50,"x":25.03,"y":1.97},{"g":"r","v":-50,"x":25.42,"y":1.86},{"g":"r","v":-50,"x":25.8,"y":2.22},{"g":"r","v":-50,"x":26.2,"y":2.43},{"g":"r","v":-50,"x":26.59,"y":2.58},{"g":"r","v":-50,"x":26.91,"y":2.51},{"g":"r","v":-50,"x":27.06,"y":2.4},{"g":"r","v":-50,"x":27.26,"y":1.97},{"g":"r","v":-50,"x":27.33,"y":1.0},
{"g":"s","v":-100,"x":21.57,"y":3.04},{"g":"s","v":-100,"x":21.74,"y":3.4},{"g":"s","v":-100,"x":21.89,"y":3.4},{"g":"s","v":-100,"x":22.01,"y":3.04},{"g":"s","v":-100,"x":22.04,"y":2.43},{"g":"s","v":-100,"x":21.97,"y":1.97},{"g":"s","v":-100,"x":21.93,"y":1.61},{"g":"s","v":-100,"x":21.74,"y":1.97},{"g":"s","v":-100,"x":21.57,"y":2.43},{"g":"s","v":-100,"x":21.57,"y":3.04},
{"g":"t","v":-100,"x":22.51,"y":3.76},{"g":"t","v":-100,"x":22.65,"y":3.22},{"g":"t","v":-100,"x":22.91,"y":3.04},{"g":"t","v":-100,"x":23.07,"y":2.58},{"g":"t","v":-100,"x":23.3,"y":2.25},{"g":"t","v":-100,"x":23.69,"y":2.25},{"g":"t","v":-100,"x":24.09,"y":2.25},{"g":"t","v":-100,"x":24.48,"y":2.04},{"g":"t","v":-100,"x":24.95,"y":1.68},{"g":"t","v":-100,"x":25.42,"y":1.43},{"g":"t","v":-100,"x":25.85,"y":1.32},{"g":"t","v":-100,"x":26.12,"y":1.43},{"g":"t","v":-100,"x":26.36,"y":1.86},{"g":"t","v":-100,"x":26.74,"y":2.08},{"g":"t","v":-100,"x":26.89,"y":1.79},{"g":"t","v":-100,"x":26.94,"y":1.0},
{"g":"u","v":-150,"x":22.6,"y":1.0},{"g":"u","v":-150,"x":22.77,"y":1.43},{"g":"u","v":-150,"x":22.95,"y":1.86},{"g":"u","v":-150,"x":23.12,"y":2.08},{"g":"u","v":-150,"x":23.24,"y":2.0},{"g":"u","v":-150,"x":23.54,"y":1.61},{"g":"u","v":-150,"x":23.77,"y":1.72},{"g":"u","v":-150,"x":24.09,"y":1.9},{"g":"u","v":-150,"x":24.24,"y":1.97},{"g":"u","v":-150,"x":24.48,"y":1.79},{"g":"u","v":-150,"x":24.71,"y":1.43},{"g":"u","v":-150,"x":24.89,"y":1.0},
{"g":"v","v":-200,"x":24.36,"y":1.0},{"g":"v","v":-200,"x":24.42,"y":1.43},{"g":"v","v":-200,"x":24.59,"y":1.32},{"g":"v","v":-200,"x":24.77,"y":1.07},{"g":"v","v":-200,"x":24.83,"y":1.0},
{"g":"w","v":-150,"x":22.28,"y":2.15},{"g":"w","v":-150,"x":22.42,"y":2.15},{"g":"w","v":-150,"x":22.4,"y":1.5},{"g":"w","v":-150,"x":22.3,"y":1.5},{"g":"w","v":-150,"x":22.28,"y":2.15},
{"g":"x","v":-200,"x":23.33,"y":1.0},{"g":"x","v":-200,"x":23.45,"y":1.5},{"g":"x","v":-200,"x":23.58,"y":1.0},
{"g":"y","v":-100,"x":26.97,"y":1.0},{"g":"y","v":-100,"x":27.02,"y":1.68},{"g":"y","v":-100,"x":27.09,"y":1.0}
],
"labN":[
{"t":"-50","v":-50,"x":22.38,"y":8.97},{"t":"-50","v":-50,"x":25.65,"y":7.61},{"t":"-50","v":-50,"x":24.48,"y":4.41},{"t":"-50","v":-50,"x":22.09,"y":2.4},{"t":"-50","v":-50,"x":21.3,"y":5.27},
{"t":"-100","v":-100,"x":22.16,"y":7.71},{"t":"-100","v":-100,"x":23.85,"y":8.18},{"t":"-100","v":-100,"x":25.1,"y":7.07},{"t":"-100","v":-100,"x":24.86,"y":6.17},{"t":"-100","v":-100,"x":22.68,"y":5.31},{"t":"-100","v":-100,"x":22.09,"y":4.41},
{"t":"50","v":50,"x":22.69,"y":10.59},{"t":"50","v":50,"x":25.92,"y":10.34},{"t":"50","v":50,"x":27.24,"y":11.38},{"t":"50","v":50,"x":24.04,"y":2.22},{"t":"50","v":50,"x":27.04,"y":2.04},{"t":"50","v":50,"x":27.61,"y":1.5},{"t":"50","v":50,"x":22.63,"y":1.18},
{"t":"100","v":100,"x":23.07,"y":11.56},{"t":"100","v":100,"x":25.92,"y":11.23},{"t":"100","v":100,"x":23.77,"y":1.36},
{"t":"150","v":150,"x":23.85,"y":11.3},{"t":"150","v":150,"x":25.5,"y":11.56},{"t":"150","v":150,"x":26.16,"y":1.97}
],
"labS":[
{"t":"-50","v":-50,"x":21.83,"y":10.86},{"t":"-50","v":-50,"x":24.16,"y":9.96},{"t":"-50","v":-50,"x":27.3,"y":11.0},{"t":"-50","v":-50,"x":21.46,"y":2.22},{"t":"-50","v":-50,"x":23.85,"y":2.76},{"t":"-50","v":-50,"x":27.06,"y":2.4},
{"t":"-100","v":-100,"x":22.93,"y":11.11},{"t":"-100","v":-100,"x":23.81,"y":10.64},{"t":"-100","v":-100,"x":25.97,"y":10.57},{"t":"-100","v":-100,"x":22.01,"y":2.58},{"t":"-100","v":-100,"x":22.91,"y":3.04},{"t":"-100","v":-100,"x":25.85,"y":1.32},
{"t":"-150","v":-150,"x":25.53,"y":11.0},{"t":"-150","v":-150,"x":26.67,"y":11.22},{"t":"-150","v":-150,"x":22.95,"y":1.86},{"t":"-150","v":-150,"x":24.09,"y":1.9},
{"t":"-200","v":-200,"x":24.98,"y":11.18},{"t":"-200","v":-200,"x":24.62,"y":1.35},
{"t":"50","v":50,"x":23.32,"y":7.81},{"t":"50","v":50,"x":26.62,"y":9.06},{"t":"50","v":50,"x":26.85,"y":3.76},{"t":"50","v":50,"x":23.44,"y":4.05},
{"t":"100","v":100,"x":23.92,"y":7.06},{"t":"100","v":100,"x":23.27,"y":5.37},{"t":"100","v":100,"x":26.85,"y":8.6},{"t":"100","v":100,"x":26.32,"y":4.23},
{"t":"150","v":150,"x":24.36,"y":6.16},{"t":"150","v":150,"x":26.85,"y":5.48},
{"t":"200","v":200,"x":25.45,"y":7.78},{"t":"200","v":200,"x":25.89,"y":6.02},
{"t":"250","v":250,"x":24.92,"y":6.34},{"t":"250","v":250,"x":26.59,"y":6.34},
{"t":"300","v":300,"x":25.06,"y":5.62}
]
},
"vconcat":[
{
"title":{"text":"Northern Hemisphere"},
"width":936,"height":306,
"resolve":{"axis":{"x":"independent","y":"independent"}},
"layer":[
{"data":{"name":"polyN"},"transform":[{"filter":"datum.s == 'g'"}],
 "mark":{"type":"line","fill":"#d8d8d8","stroke":"#000","strokeWidth":2.4,"strokeJoin":"round","clip":true},
 "encoding":{
  "x":{"field":"x","type":"quantitative","scale":{"domain":[19,30],"nice":false,"zero":false},"axis":{"orient":"bottom","values":[19,20,21,22,23,24,25,26,27,28,29,30],"format":"d","labelPadding":16.5,"title":"Density Anomaly (kg m⁻³)","titlePadding":12}},
  "y":{"field":"y","type":"quantitative","scale":{"domain":[1,12],"nice":false,"zero":false},"axis":{"orient":"left","values":[1,2,3,4,5,6,7,8,9,10,11,12],"labelExpr":"['J','F','M','A','M','J','J','A','S','O','N','D'][datum.value - 1]","labelPadding":17,"title":null}},
  "detail":{"field":"g"},"order":{"value":null}}},
{"data":{"name":"polyN"},"transform":[{"filter":"datum.s == 'w'"}],
 "mark":{"type":"line","fill":"#ffffff","stroke":"#000","strokeWidth":2.4,"strokeJoin":"round","clip":true},
 "encoding":{
  "x":{"field":"x","type":"quantitative","scale":{"domain":[19,30],"nice":false,"zero":false},"axis":{"orient":"top","values":[19,20,21,22,23,24,25,26,27,28,29,30],"labels":false,"title":null}},
  "y":{"field":"y","type":"quantitative","scale":{"domain":[1,12],"nice":false,"zero":false},"axis":{"orient":"right","values":[1,2,3,4,5,6,7,8,9,10,11,12],"labels":false,"title":null}},
  "detail":{"field":"g"},"order":{"value":null}}},
{"data":{"name":"polyN"},"transform":[{"filter":"datum.s == 'd'"}],
 "mark":{"type":"line","fill":"#d8d8d8","stroke":"#000","strokeWidth":2.4,"strokeJoin":"round","clip":true},
 "encoding":{
  "x":{"field":"x","type":"quantitative","scale":{"domain":[19,30],"nice":false,"zero":false},"axis":null},
  "y":{"field":"y","type":"quantitative","scale":{"domain":[1,12],"nice":false,"zero":false},"axis":null},
  "detail":{"field":"g"},"order":{"value":null}}},
{"data":{"name":"thkN"},
 "mark":{"type":"line","stroke":"#000","strokeWidth":2.4,"strokeJoin":"round","clip":true},
 "encoding":{
  "x":{"field":"x","type":"quantitative","scale":{"domain":[19,30],"nice":false,"zero":false},"axis":null},
  "y":{"field":"y","type":"quantitative","scale":{"domain":[1,12],"nice":false,"zero":false},"axis":null},
  "detail":{"field":"g"},"order":{"value":null}}},
{"data":{"name":"contN"},"transform":[{"filter":"datum.v < 0"}],
 "mark":{"type":"line","stroke":"#6e6e6e","strokeWidth":1,"strokeDash":[2.5,1.5],"clip":true},
 "encoding":{
  "x":{"field":"x","type":"quantitative","scale":{"domain":[19,30],"nice":false,"zero":false},"axis":null},
  "y":{"field":"y","type":"quantitative","scale":{"domain":[1,12],"nice":false,"zero":false},"axis":null},
  "detail":{"field":"g"},"order":{"value":null}}},
{"data":{"name":"contN"},"transform":[{"filter":"datum.v > 0"}],
 "mark":{"type":"line","stroke":"#4a4a4a","strokeWidth":1.1,"clip":true},
 "encoding":{
  "x":{"field":"x","type":"quantitative","scale":{"domain":[19,30],"nice":false,"zero":false},"axis":null},
  "y":{"field":"y","type":"quantitative","scale":{"domain":[1,12],"nice":false,"zero":false},"axis":null},
  "detail":{"field":"g"},"order":{"value":null}}},
{"data":{"name":"labN"},
 "mark":{"type":"text","font":"Liberation Sans","fontSize":16,"strokeWidth":5,"align":"center","baseline":"middle","clip":true},
 "encoding":{
  "x":{"field":"x","type":"quantitative","scale":{"domain":[19,30],"nice":false,"zero":false},"axis":null},
  "y":{"field":"y","type":"quantitative","scale":{"domain":[1,12],"nice":false,"zero":false},"axis":null},
  "text":{"field":"t"},
  "stroke":{"condition":{"test":"datum.v < 0","value":"#d8d8d8"},"value":"#ffffff"},
  "fill":{"condition":{"test":"datum.v < 0","value":"#d8d8d8"},"value":"#ffffff"}}},
{"data":{"name":"labN"},
 "mark":{"type":"text","font":"Liberation Sans","fontSize":16,"fill":"#111","align":"center","baseline":"middle","clip":true},
 "encoding":{
  "x":{"field":"x","type":"quantitative","scale":{"domain":[19,30],"nice":false,"zero":false},"axis":null},
  "y":{"field":"y","type":"quantitative","scale":{"domain":[1,12],"nice":false,"zero":false},"axis":null},
  "text":{"field":"t"}}}
]
},
{
"title":{"text":"Southern Hemisphere"},
"width":936,"height":306,
"resolve":{"axis":{"x":"independent","y":"independent"}},
"layer":[
{"data":{"name":"polyS"},"transform":[{"filter":"datum.s == 'g'"}],
 "mark":{"type":"line","fill":"#d8d8d8","stroke":"#000","strokeWidth":2.4,"strokeJoin":"round","clip":true},
 "encoding":{
  "x":{"field":"x","type":"quantitative","scale":{"domain":[19,30],"nice":false,"zero":false},"axis":{"orient":"bottom","values":[19,20,21,22,23,24,25,26,27,28,29,30],"format":"d","labelPadding":16.5,"title":"Density Anomaly (kg m⁻³)","titlePadding":12}},
  "y":{"field":"y","type":"quantitative","scale":{"domain":[1,12],"nice":false,"zero":false},"axis":{"orient":"left","values":[1,2,3,4,5,6,7,8,9,10,11,12],"labelExpr":"['J','F','M','A','M','J','J','A','S','O','N','D'][datum.value - 1]","labelPadding":17,"title":null}},
  "detail":{"field":"g"},"order":{"value":null}}},
{"data":{"name":"polyS"},"transform":[{"filter":"datum.s == 'w'"}],
 "mark":{"type":"line","fill":"#ffffff","stroke":"#000","strokeWidth":2.4,"strokeJoin":"round","clip":true},
 "encoding":{
  "x":{"field":"x","type":"quantitative","scale":{"domain":[19,30],"nice":false,"zero":false},"axis":{"orient":"top","values":[19,20,21,22,23,24,25,26,27,28,29,30],"labels":false,"title":null}},
  "y":{"field":"y","type":"quantitative","scale":{"domain":[1,12],"nice":false,"zero":false},"axis":{"orient":"right","values":[1,2,3,4,5,6,7,8,9,10,11,12],"labels":false,"title":null}},
  "detail":{"field":"g"},"order":{"value":null}}},
{"data":{"name":"polyS"},"transform":[{"filter":"datum.s == 'd'"}],
 "mark":{"type":"line","fill":"#d8d8d8","stroke":"#000","strokeWidth":2.4,"strokeJoin":"round","clip":true},
 "encoding":{
  "x":{"field":"x","type":"quantitative","scale":{"domain":[19,30],"nice":false,"zero":false},"axis":null},
  "y":{"field":"y","type":"quantitative","scale":{"domain":[1,12],"nice":false,"zero":false},"axis":null},
  "detail":{"field":"g"},"order":{"value":null}}},
{"data":{"name":"thkS"},
 "mark":{"type":"line","stroke":"#000","strokeWidth":2.4,"strokeJoin":"round","clip":true},
 "encoding":{
  "x":{"field":"x","type":"quantitative","scale":{"domain":[19,30],"nice":false,"zero":false},"axis":null},
  "y":{"field":"y","type":"quantitative","scale":{"domain":[1,12],"nice":false,"zero":false},"axis":null},
  "detail":{"field":"g"},"order":{"value":null}}},
{"data":{"name":"contS"},"transform":[{"filter":"datum.v < 0"}],
 "mark":{"type":"line","stroke":"#6e6e6e","strokeWidth":1,"strokeDash":[2.5,1.5],"clip":true},
 "encoding":{
  "x":{"field":"x","type":"quantitative","scale":{"domain":[19,30],"nice":false,"zero":false},"axis":null},
  "y":{"field":"y","type":"quantitative","scale":{"domain":[1,12],"nice":false,"zero":false},"axis":null},
  "detail":{"field":"g"},"order":{"value":null}}},
{"data":{"name":"contS"},"transform":[{"filter":"datum.v > 0"}],
 "mark":{"type":"line","stroke":"#4a4a4a","strokeWidth":1.1,"clip":true},
 "encoding":{
  "x":{"field":"x","type":"quantitative","scale":{"domain":[19,30],"nice":false,"zero":false},"axis":null},
  "y":{"field":"y","type":"quantitative","scale":{"domain":[1,12],"nice":false,"zero":false},"axis":null},
  "detail":{"field":"g"},"order":{"value":null}}},
{"data":{"name":"labS"},
 "mark":{"type":"text","font":"Liberation Sans","fontSize":16,"strokeWidth":5,"align":"center","baseline":"middle","clip":true},
 "encoding":{
  "x":{"field":"x","type":"quantitative","scale":{"domain":[19,30],"nice":false,"zero":false},"axis":null},
  "y":{"field":"y","type":"quantitative","scale":{"domain":[1,12],"nice":false,"zero":false},"axis":null},
  "text":{"field":"t"},
  "stroke":{"condition":{"test":"datum.v < 0","value":"#d8d8d8"},"value":"#ffffff"},
  "fill":{"condition":{"test":"datum.v < 0","value":"#d8d8d8"},"value":"#ffffff"}}},
{"data":{"name":"labS"},
 "mark":{"type":"text","font":"Liberation Sans","fontSize":16,"fill":"#111","align":"center","baseline":"middle","clip":true},
 "encoding":{
  "x":{"field":"x","type":"quantitative","scale":{"domain":[19,30],"nice":false,"zero":false},"axis":null},
  "y":{"field":"y","type":"quantitative","scale":{"domain":[1,12],"nice":false,"zero":false},"axis":null},
  "text":{"field":"t"}}}
]
}
]
}
